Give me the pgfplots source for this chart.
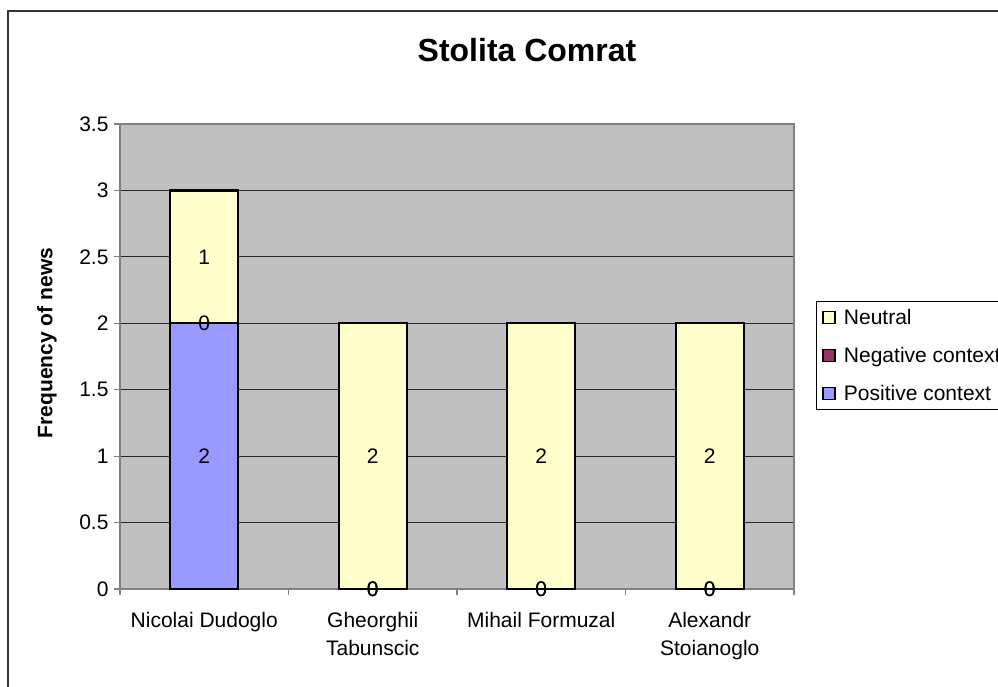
\documentclass[border=0pt]{standalone}
\usepackage{fontspec}
\setmainfont{Liberation Sans}
\usepackage{pgfplots}
\usepackage{pgfplotstable}
\pgfplotsset{compat=1.18}
\definecolor{posc}{HTML}{9999FF}
\definecolor{negc}{HTML}{993366}
\definecolor{neuc}{HTML}{FFFFCC}
\definecolor{plotbg}{HTML}{C0C0C0}
\definecolor{axgray}{HTML}{808080}
\newcommand\lf{\fontsize{21pt}{28pt}\selectfont}
\newcommand\tf{\fontsize{32pt}{38pt}\selectfont\bfseries}

\pgfplotstableread{
x pos neg neu
0 2 0 1
1 0 0 2
2 0 0 2
3 0 0 2
}\bars

\pgfplotstableread{
x y lab
0 1 2
0 2 0
0 2.5 1
1 0 0
1 0 0
1 1 2
2 0 0
2 0 0
2 1 2
3 0 0
3 0 0
3 1 2
}\labs

\begin{document}
\begin{tikzpicture}
\useasboundingbox (0,0) rectangle (998pt,-686pt);
\fill[white] (0,0) rectangle (998pt,-686pt);
\draw[line width=2pt, black!80] (8pt,-690pt) -- (8pt,-11pt) -- (1005pt,-11pt);
\node[font=\tf] at (527pt,-50pt) {Stolita Comrat};

\begin{axis}[
  at={(120pt,-589pt)}, anchor=south west,
  scale only axis, width=674pt, height=465pt,
  ybar stacked, bar width=68pt,
  xmin=-0.5, xmax=3.5, ymin=0, ymax=3.5,
  ytick={0,0.5,1,1.5,2,2.5,3,3.5},
  yticklabels={0,0.5,1,1.5,2,2.5,3,3.5},
  xtick={-0.5,0.5,1.5,2.5,3.5},
  xticklabels={},
  extra x ticks={0,1,2,3},
  extra x tick labels={Nicolai Dudoglo,{Gheorghii\\Tabunscic},Mihail Formuzal,{Alexandr\\Stoianoglo}},
  extra x tick style={major tick length=0pt, tick style={draw=none}},
  xtick pos=bottom, ytick pos=left,
  tick align=outside, major tick length=6pt,
  tick style={axgray, line width=1.2pt},
  axis line style={axgray, line width=1.5pt},
  axis background/.style={fill=plotbg},
  ymajorgrids, major grid style={black!85, line width=1pt},
  ticklabel style={font=\lf},
  xticklabel style={align=center, yshift=-20pt},
  yticklabel style={xshift=-2pt},
  ylabel={Frequency of news},
  ylabel style={font=\lf\bfseries, at={(axis description cs:-0.1083,0.529)}, anchor=center},
  legend style={at={(axis description cs:1.0326,0.6194)}, anchor=north west,
    draw=black, line width=0.8pt, font=\lf, row sep=17pt, inner xsep=6pt, inner ysep=6pt},
  legend cell align=left,
  reverse legend,
]
\pgfplotsset{mybar/.style={fill=#1, draw=black, line width=2.2pt,
  legend image code/.code={\draw[fill=#1, draw=black, line width=1.2pt] (0pt,-6pt) rectangle (12pt,6pt); \path[draw=none, fill=none] (0pt,0pt) (19pt,0pt);}}}
\addplot[mybar=posc] table[x=x, y=pos] {\bars};
\addlegendentry{Positive context}
\addplot[mybar=negc] table[x=x, y=neg] {\bars};
\addlegendentry{Negative context}
\addplot[mybar=neuc] table[x=x, y=neu] {\bars};
\addlegendentry{Neutral}
\end{axis}

\begin{axis}[
  at={(120pt,-589pt)}, anchor=south west,
  scale only axis, width=674pt, height=465pt,
  xmin=-0.5, xmax=3.5, ymin=0, ymax=3.5,
  hide axis, clip=false,
]
\addplot[draw=none, mark=none, nodes near coords, point meta=explicit symbolic,
  nodes near coords style={anchor=center, font=\lf, inner sep=0pt}]
  table[x=x, y=y, meta=lab] {\labs};
\end{axis}
\end{tikzpicture}
\end{document}
